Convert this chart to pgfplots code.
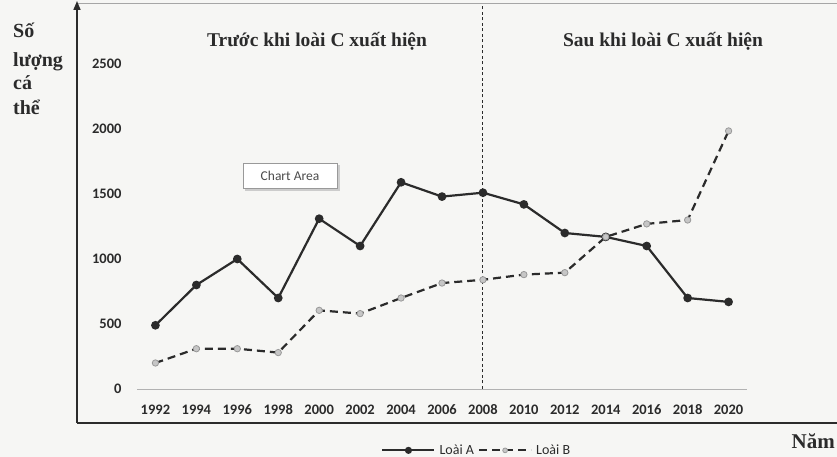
\documentclass[border=0pt]{standalone}
\usepackage{pgfplots}
\pgfplotsset{compat=1.18}
\usepackage{fontspec}
\setmainfont{Carlito}
\newfontfamily\vserif{Liberation Serif}
\usetikzlibrary{arrows.meta}
\definecolor{ink}{HTML}{2B2B2B}
\definecolor{bg}{HTML}{F6F6F4}
\begin{document}
\begin{tikzpicture}[x=1pt,y=1pt]
\fill[bg] (0,0) rectangle (837,457);
\path[use as bounding box] (0,0) rectangle (837,457);
% frame lines
\draw[gray!70, line width=0.8pt] (77,454) -- (837,454);
\draw[ink, line width=2pt] (77,34) -- (837,34);
\draw[ink, line width=1.6pt, -{Triangle[length=9pt,width=7pt]}] (77,34) -- (77,456);
\begin{axis}[
  at={(137pt,68pt)}, anchor=south west,
  scale only axis, width=610pt, height=383.5pt,
  xmin=1991.1, xmax=2020.9, ymin=0, ymax=2950,
  axis x line=bottom, axis y line=left,
  x axis line style={-, gray!60, line width=0.6pt},
  y axis line style={draw=none},
  major tick length=0pt,
  xtick={1992,1994,...,2020},
  ytick={0,500,...,2500},
  /pgf/number format/1000 sep={},
  /pgf/number format/assume math mode=true,
  tick label style={font=\bfseries\fontsize{14.5}{16}\selectfont, text=ink},
  xticklabel style={yshift=-12pt},
  yticklabel style={xshift=-12pt},
  clip=false,
  legend style={at={(0.557,-0.16)}, anchor=center, draw=none, fill=none,
    legend columns=-1, font=\fontsize{14}{16}\selectfont\color{ink},
    /tikz/every even column/.append style={column sep=2pt},
    /tikz/every odd column/.append style={column sep=2pt}},
  legend image code/.code={\draw[mark repeat=2, mark phase=2, mark size=2.4pt, #1] plot coordinates {(0pt,0pt) (26pt,0pt) (52pt,0pt)};},
]
\addplot[ink, line width=2.2pt, mark=*, mark size=3.2pt, mark options={solid, fill=ink}]
coordinates {(1992,490)(1994,800)(1996,1000)(1998,700)(2000,1310)(2002,1100)(2004,1590)(2006,1480)(2008,1510)(2010,1420)(2012,1200)(2014,1170)(2016,1100)(2018,700)(2020,670)};
\addlegendentry{Loài A}
\addplot[ink, line width=2.2pt, dash pattern=on 8pt off 5pt, mark=*, mark size=3.2pt, mark options={solid, fill=gray!45, draw=gray!80, line width=0.8pt}]
coordinates {(1992,200)(1994,310)(1996,310)(1998,280)(2000,605)(2002,580)(2004,700)(2006,815)(2008,840)(2010,880)(2012,895)(2014,1170)(2016,1270)(2018,1300)(2020,1985)};
\addlegendentry{Loài B}
\draw[ink, line width=1pt, dash pattern=on 3pt off 2.5pt] (axis cs:2008,0) -- (axis cs:2008,2950);
\end{axis}
% texts
\node[anchor=base west, font=\vserif\bfseries\fontsize{20}{22}\selectfont, text=ink, inner sep=0] at (13,419) {Số};
\node[anchor=base west, font=\vserif\bfseries\fontsize{20}{22}\selectfont, text=ink, inner sep=0] at (13,390) {lượng};
\node[anchor=base west, font=\vserif\bfseries\fontsize{20}{22}\selectfont, text=ink, inner sep=0] at (13,367) {cá};
\node[anchor=base west, font=\vserif\bfseries\fontsize{20}{22}\selectfont, text=ink, inner sep=0] at (13,342) {thể};
\node[font=\vserif\bfseries\fontsize{19.5}{21}\selectfont, text=ink] at (317,416) {Trước khi loài C xuất hiện};
\node[font=\vserif\bfseries\fontsize{19.5}{21}\selectfont, text=ink] at (663,416) {Sau khi loài C xuất hiện};
\node[font=\vserif\bfseries\fontsize{21}{23}\selectfont, text=ink, anchor=base east, inner sep=0] at (835,8) {Năm};
% chart area box
\fill[gray!40] (245,266) rectangle (340,292);
\node[draw=gray!80, fill=white, minimum width=94pt, minimum height=25pt, inner sep=0, font=\fontsize{13.5}{15}\selectfont, text=ink!85] at (290,281) {Chart Area};
\end{tikzpicture}
\end{document}
